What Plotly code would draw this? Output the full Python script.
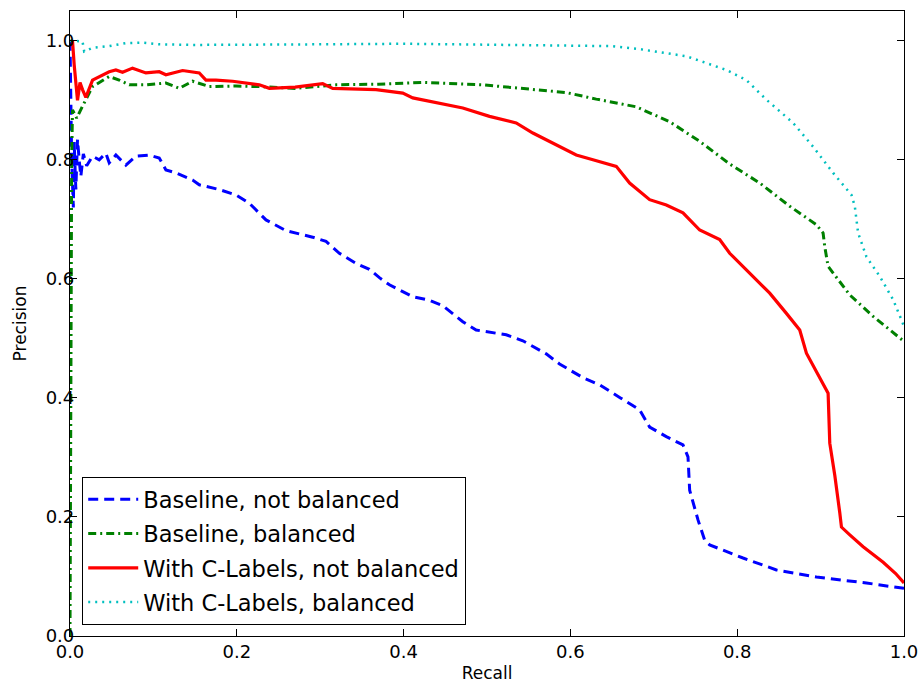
import plotly.graph_objects as go

# Baseline, not balanced
base_nb_recall = [0.0, 0.002, 0.004, 0.005, 0.007, 0.009, 0.011, 0.013, 0.016, 0.02, 0.027, 0.035,
                  0.043, 0.047, 0.055, 0.067, 0.079, 0.095, 0.107, 0.115, 0.127, 0.147, 0.155, 0.179,
                  0.199, 0.215, 0.235, 0.259, 0.291, 0.307, 0.323, 0.343, 0.359, 0.371, 0.383, 0.411,
                  0.431, 0.447, 0.471, 0.487, 0.523, 0.543, 0.571, 0.587, 0.615, 0.635, 0.660, 0.683,
                  0.695, 0.715, 0.735, 0.741, 0.743, 0.753, 0.761, 0.767, 0.807, 0.847, 0.895, 0.955, 1.0]
base_nb_precision = [1.0, 0.80, 0.72, 0.83, 0.75, 0.834, 0.80, 0.772, 0.81, 0.79, 0.806, 0.80,
                     0.811, 0.795, 0.808, 0.791, 0.806, 0.808, 0.803, 0.783, 0.778, 0.766, 0.758, 0.750,
                     0.741, 0.727, 0.699, 0.681, 0.670, 0.663, 0.643, 0.626, 0.616, 0.602, 0.590, 0.570,
                     0.564, 0.555, 0.528, 0.514, 0.506, 0.496, 0.474, 0.457, 0.434, 0.422, 0.400, 0.380,
                     0.351, 0.335, 0.321, 0.301, 0.245, 0.195, 0.161, 0.153, 0.131, 0.111, 0.099, 0.089, 0.080]

# Baseline, balanced
base_b_recall = [0.0, 0.001, 0.002, 0.003, 0.008, 0.015, 0.027, 0.047, 0.059, 0.071, 0.091, 0.115,
                 0.131, 0.147, 0.167, 0.199, 0.227, 0.27, 0.319, 0.37, 0.423, 0.495, 0.555, 0.595,
                 0.631, 0.679, 0.719, 0.755, 0.791, 0.827, 0.863, 0.895, 0.903, 0.905, 0.909, 0.935,
                 0.963, 1.0]
base_b_precision = [0.0, 0.5, 0.8, 0.884, 0.87, 0.89, 0.923, 0.940, 0.934, 0.926, 0.926, 0.929,
                    0.920, 0.932, 0.923, 0.924, 0.923, 0.92, 0.926, 0.927, 0.930, 0.926, 0.918, 0.913,
                    0.902, 0.889, 0.864, 0.831, 0.793, 0.761, 0.722, 0.691, 0.677, 0.654, 0.621, 0.573,
                    0.537, 0.495]

# With C-Labels, not balanced
cl_nb_recall = [0.003, 0.005, 0.009, 0.012, 0.015, 0.019, 0.027, 0.035, 0.047, 0.055, 0.063, 0.075,
                0.091, 0.107, 0.115, 0.135, 0.155, 0.163, 0.175, 0.195, 0.227, 0.239, 0.27, 0.303,
                0.315, 0.367, 0.399, 0.411, 0.439, 0.471, 0.503, 0.535, 0.555, 0.575, 0.607, 0.627,
                0.655, 0.671, 0.695, 0.715, 0.735, 0.755, 0.779, 0.791, 0.819, 0.839, 0.859, 0.875,
                0.883, 0.897, 0.907, 0.909, 0.911, 0.917, 0.923, 0.925, 0.935, 0.951, 0.975, 0.99, 1.0]
cl_nb_precision = [1.0, 0.96, 0.90, 0.93, 0.918, 0.905, 0.934, 0.940, 0.948, 0.951, 0.947, 0.954,
                   0.946, 0.948, 0.943, 0.950, 0.946, 0.934, 0.934, 0.932, 0.926, 0.920, 0.922, 0.928,
                   0.920, 0.918, 0.912, 0.904, 0.896, 0.887, 0.873, 0.862, 0.845, 0.831, 0.808, 0.800,
                   0.789, 0.761, 0.733, 0.724, 0.711, 0.682, 0.666, 0.643, 0.604, 0.576, 0.542, 0.514,
                   0.475, 0.44, 0.415, 0.408, 0.324, 0.27, 0.207, 0.183, 0.17, 0.150, 0.124, 0.105, 0.089]

# With C-Labels, balanced
cl_b_recall = [0.0, 0.003, 0.015, 0.017, 0.027, 0.047, 0.067, 0.087, 0.107, 0.15, 0.2, 0.3, 0.4,
               0.5, 0.593, 0.65, 0.683, 0.739, 0.787, 0.811, 0.835, 0.867, 0.891, 0.915, 0.937,
               0.941, 0.945, 0.955, 0.971, 0.987, 0.997, 1.0]
cl_b_precision = [1.0, 1.0, 0.999, 0.982, 0.988, 0.991, 0.996, 0.997, 0.994, 0.993, 0.993, 0.994, 0.995,
                  0.993, 0.992, 0.991, 0.986, 0.974, 0.951, 0.934, 0.901, 0.862, 0.822, 0.778, 0.741,
                  0.722, 0.677, 0.637, 0.604, 0.565, 0.531, 0.52]

series_names = ["Baseline, not balanced", "Baseline, balanced",
                "With C-Labels, not balanced", "With C-Labels, balanced"]
tick_vals = [0.0, 0.2, 0.4, 0.6, 0.8, 1.0]

FONT = "DejaVu Sans"

fig = go.Figure()
fig.add_trace(go.Scatter(x=base_nb_recall, y=base_nb_precision, mode="lines", name=series_names[0],
                         legendgroup="g1",
                         line=dict(color="#0000ff", width=3, dash="10px,6px")))
fig.add_trace(go.Scatter(x=base_b_recall, y=base_b_precision, mode="lines", name=series_names[1],
                         legendgroup="g2",
                         line=dict(color="#008000", width=3, dash="8px,4px,2px,4px")))
fig.add_trace(go.Scatter(x=cl_nb_recall, y=cl_nb_precision, mode="lines", name=series_names[2],
                         legendgroup="g3",
                         line=dict(color="#ff0000", width=3.2)))
fig.add_trace(go.Scatter(x=cl_b_recall, y=cl_b_precision, mode="lines", name=series_names[3],
                         legendgroup="g4",
                         line=dict(color="#00bfbf", width=2.5, dash="2px,5px")))

axis_common = dict(
    showline=True, linecolor="black", linewidth=1.2, mirror="allticks",
    ticks="inside", ticklen=7, tickcolor="black", tickwidth=1,
    showgrid=False, zeroline=False, automargin=False,
    tickfont=dict(family=FONT, size=18, color="black"),
    tickvals=tick_vals, tickformat=".1f",
)

fig.update_layout(
    width=923, height=685,
    paper_bgcolor="white", plot_bgcolor="white",
    margin=dict(l=70, r=19, t=11, b=49),
    font=dict(family=FONT, color="black"),
    xaxis=dict(range=[0, 1], ticklabelstandoff=-1,
               title=dict(text="Recall", font=dict(family=FONT, size=17), standoff=6),
               **axis_common),
    yaxis=dict(range=[0, 1.05], ticklabelstandoff=-9,
               title=dict(text="Precision", font=dict(family=FONT, size=17), standoff=14),
               **axis_common),
    legend=dict(x=0.0144, y=0.0176, xanchor="left", yanchor="bottom",
                bordercolor="black", borderwidth=1.2, bgcolor="white",
                font=dict(family=FONT, size=22.5, color="black"),
                itemwidth=50, tracegroupgap=2),
    showlegend=True,
)

fig.write_html("out.html", config={"displayModeBar": False},
               post_script="document.body.style.margin='0';")
